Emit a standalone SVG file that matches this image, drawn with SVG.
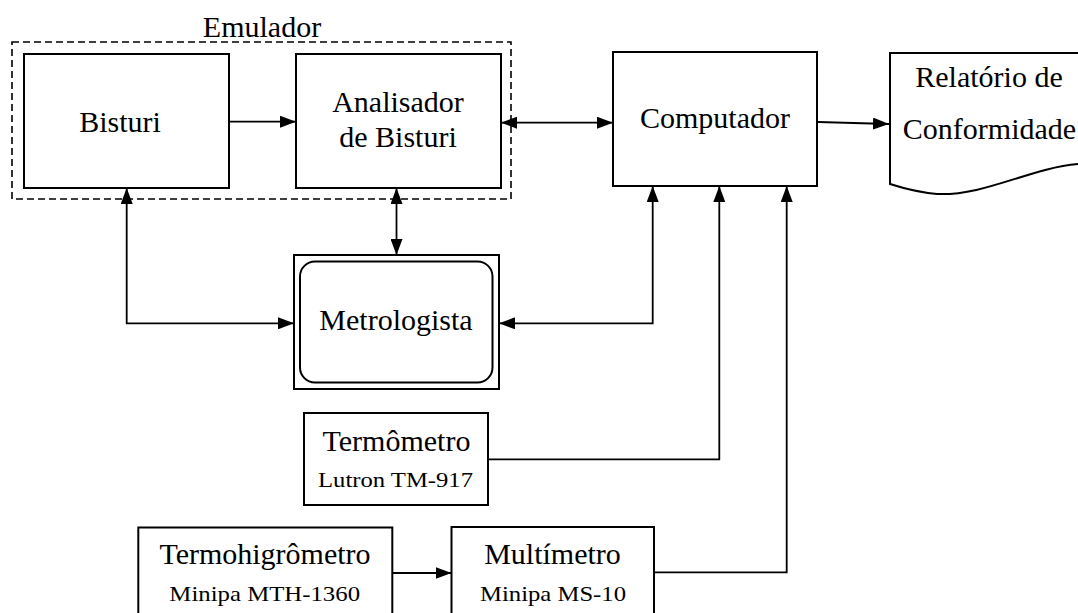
<svg xmlns="http://www.w3.org/2000/svg" width="1078" height="613" viewBox="0 0 1078 613">
  <style>
    .box { fill: #ffffff; stroke: #000000; stroke-width: 2; }
    .group { fill: none; stroke: #000000; stroke-width: 1.6; stroke-dasharray: 7 4; }
    .wire { fill: none; stroke: #000000; stroke-width: 1.8; }
    .lbl { font-family: "Liberation Serif", "Times New Roman", serif; font-size: 30px; fill: #000000; text-anchor: middle; }
    .sub { font-family: "Liberation Serif", "Times New Roman", serif; font-size: 21.5px; fill: #000000; text-anchor: middle; }
  </style>
  <defs>
    <marker id="arrow" viewBox="0 0 16 12" refX="16" refY="6" markerWidth="16" markerHeight="12" markerUnits="userSpaceOnUse" orient="auto-start-reverse">
      <path d="M0,0 L16,6 L0,12 Z" fill="#000000"/>
    </marker>
  </defs>
  <rect width="1078" height="613" fill="#ffffff"/>

  <!-- Emulador grouping -->
  <g id="emulador">
    <rect class="group" x="12" y="42" width="499" height="157"/>
    <text class="lbl" x="262" y="36.5">Emulador</text>
  </g>

  <g id="bisturi">
    <rect class="box" x="24" y="54" width="205" height="134"/>
    <text class="lbl" x="120" y="131.5">Bisturi</text>
  </g>

  <g id="analisador">
    <rect class="box" x="296" y="54" width="205" height="134"/>
    <text class="lbl" x="398" y="111.5">Analisador</text>
    <text class="lbl" x="398" y="147">de Bisturi</text>
  </g>

  <g id="computador">
    <rect class="box" x="613" y="52" width="204" height="134"/>
    <text class="lbl" x="715" y="128">Computador</text>
  </g>

  <g id="relatorio">
    <path class="box" d="M890,53 H1082 V164 L1078,164 C1030,168 985,196 937,194 Q915,192 890,184 Z"/>
    <text class="lbl" x="989" y="86.5">Relatório de</text>
    <text class="lbl" x="989.5" y="139">Conformidade</text>
  </g>

  <g id="metrologista">
    <rect class="box" x="294" y="255" width="205" height="134"/>
    <rect class="box" x="300" y="261.5" width="192.5" height="121" rx="15" ry="15"/>
    <text class="lbl" x="396" y="330">Metrologista</text>
  </g>

  <g id="termometro">
    <rect class="box" x="304" y="413" width="184" height="92"/>
    <text class="lbl" x="396.5" y="451">Termômetro</text>
    <text class="sub" x="395.5" y="487.3" textLength="155" lengthAdjust="spacingAndGlyphs">Lutron TM-917</text>
  </g>

  <g id="termohigrometro">
    <rect class="box" x="138.3" y="527.5" width="254" height="90"/>
    <text class="lbl" x="265" y="564.3">Termohigrômetro</text>
    <text class="sub" x="264.7" y="600.7" textLength="190.7" lengthAdjust="spacingAndGlyphs">Minipa MTH-1360</text>
  </g>

  <g id="multimetro">
    <rect class="box" x="451.5" y="527" width="202.5" height="90"/>
    <text class="lbl" x="552.5" y="564.3">Multímetro</text>
    <text class="sub" x="553" y="600.7" textLength="146" lengthAdjust="spacingAndGlyphs">Minipa MS-10</text>
  </g>

  <!-- connectors -->
  <g id="connectors">
    <path class="wire" d="M229,121.7 H296" marker-end="url(#arrow)"/>
    <path class="wire" d="M501,122.7 H613" marker-start="url(#arrow)" marker-end="url(#arrow)"/>
    <path class="wire" d="M818,122 L889,124" marker-end="url(#arrow)"/>
    <path class="wire" d="M126.7,188 V323.3 H294" marker-start="url(#arrow)" marker-end="url(#arrow)"/>
    <path class="wire" d="M396.5,188 V255" marker-start="url(#arrow)" marker-end="url(#arrow)"/>
    <path class="wire" d="M652.7,186 V323.3 H499" marker-start="url(#arrow)" marker-end="url(#arrow)"/>
    <path class="wire" d="M488,459.3 H719.3 V186" marker-end="url(#arrow)"/>
    <path class="wire" d="M654,572.3 H786.7 V186" marker-end="url(#arrow)"/>
    <path class="wire" d="M392.3,573 H451.5" marker-end="url(#arrow)"/>
  </g>
</svg>
